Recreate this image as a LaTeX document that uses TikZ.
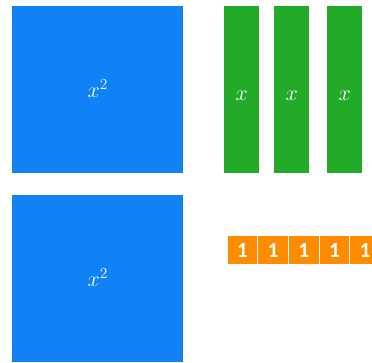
\RequirePackage{fix-cm}
\documentclass[tikz,border=0pt]{standalone}
\usepackage{fontspec}
\newfontfamily\unitfont{Carlito}
\usepackage{tikz}
\definecolor{sqblue}{RGB}{16,130,245}
\definecolor{bargreen}{RGB}{35,170,40}
\definecolor{unitorange}{RGB}{255,140,0}

\begin{document}
\begin{tikzpicture}[x=1pt, y=-1pt,
    sqtile/.style={fill=sqblue, inner sep=0pt, anchor=north west, minimum width=171pt, minimum height=167pt},
    bartile/.style={fill=bargreen, inner sep=0pt, anchor=north west, minimum width=35pt, minimum height=167pt},
    unittile/.style={fill=unitorange, draw=white, line width=1pt, inner sep=0pt, anchor=north west,
        minimum width=30.7pt, minimum height=29pt, text=white, font=\unitfont\bfseries\fontsize{21.5}{22}\selectfont},
    tilelabel/.style={text=white, inner sep=0pt, anchor=base, font=\fontsize{22}{24}\selectfont}]

    \useasboundingbox (0, 0) rectangle (372, 363);
    \clip (0, 0) rectangle (372, 363);

    % x^2 tiles
    \node[sqtile] (sqtop) at (12, 6) {};
    \node[tilelabel] (sqtoplbl) at ([yshift=-8pt]sqtop.center) {$x^2$};
    \node[sqtile] (sqbot) at (12, 195) {};
    \node[tilelabel] (sqbotlbl) at ([yshift=-8pt]sqbot.center) {$x^2$};

    % x tiles
    \node[bartile] (bar1) at (224, 6) {};
    \node[bartile] (bar2) at (274, 6) {};
    \node[bartile] (bar3) at (327, 6) {};
    \foreach \b in {1, 2, 3}
        \node[tilelabel] (bar\b lbl) at ([yshift=-10.5pt]bar\b.center) {$x$};

    % unit tiles
    \foreach \i in {0, ..., 4}
        \node[unittile] (unit\i) at (226.5 + 30.7*\i, 235.5) {1};

\end{tikzpicture}
\end{document}
